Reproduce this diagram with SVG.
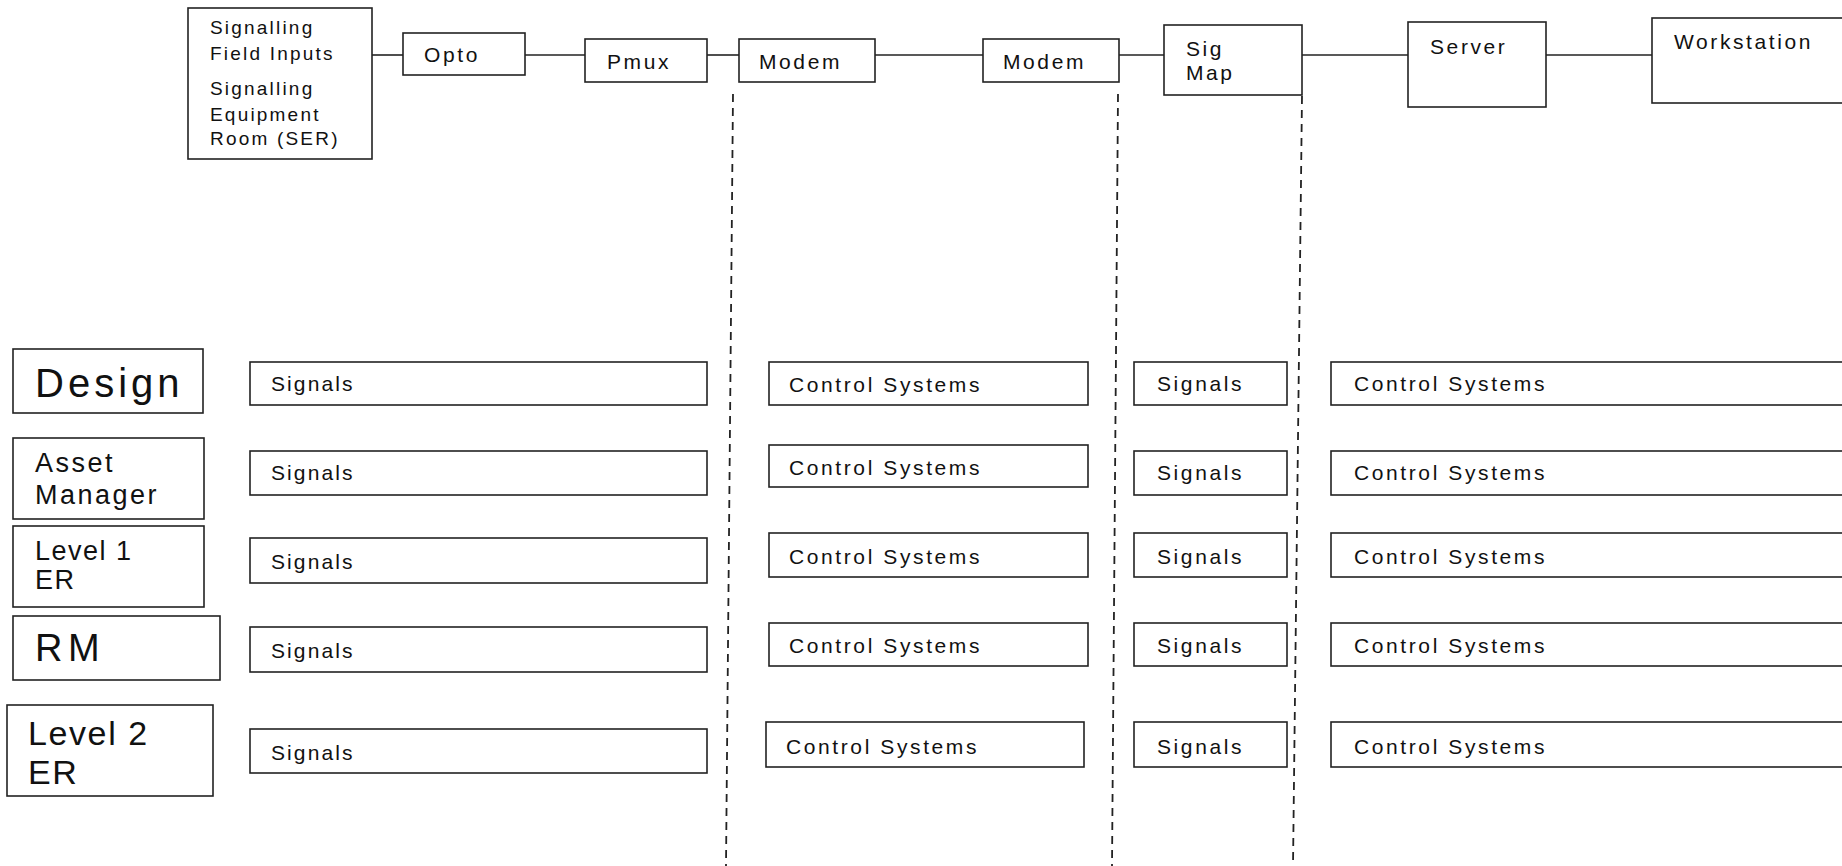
<svg xmlns="http://www.w3.org/2000/svg" width="1842" height="866" viewBox="0 0 1842 866">
<style>
  .b { fill: #fff; stroke: #222; stroke-width: 1.6; }
  .t { font-family: "Liberation Sans", Arial, sans-serif; font-size: 21px; fill: #111; letter-spacing: 2.6px; }
  .g { font-size: 21px; letter-spacing: 2.1px; }
  .s { font-size: 19px; letter-spacing: 2.2px; }
  .c { fill: none; stroke: #222; stroke-width: 1.6; }
  .d { fill: none; stroke: #222; stroke-width: 1.8; stroke-dasharray: 8 6; }
</style>
<rect width="1842" height="866" fill="#fff"/>
<g id="connectors">
  <line class="c" x1="372" y1="55" x2="403" y2="55"/>
  <line class="c" x1="525" y1="55" x2="585" y2="55"/>
  <line class="c" x1="707" y1="55" x2="739" y2="55"/>
  <line class="c" x1="875" y1="55" x2="983" y2="55"/>
  <line class="c" x1="1119" y1="55" x2="1164" y2="55"/>
  <line class="c" x1="1302" y1="55" x2="1408" y2="55"/>
  <line class="c" x1="1546" y1="55" x2="1652" y2="55"/>
  <line class="d" x1="733" y1="94" x2="726" y2="866"/>
  <line class="d" x1="1118" y1="94" x2="1112" y2="866"/>
  <line class="d" x1="1302" y1="96" x2="1293" y2="866"/>
</g>
<g id="ser"><rect class="b" x="188" y="8" width="184" height="151"/>
  <text class="t s" x="210" y="34">Signalling</text>
  <text class="t s" x="210" y="60">Field Inputs</text>
  <text class="t s" x="210" y="95">Signalling</text>
  <text class="t s" x="210" y="121">Equipment</text>
  <text class="t s" x="210" y="145">Room (SER)</text></g>
<g id="opto"><rect class="b" x="403" y="33" width="122" height="42"/><text class="t" x="424" y="62">Opto</text></g>
<g id="pmux"><rect class="b" x="585" y="39" width="122" height="43"/><text class="t" x="607" y="69">Pmux</text></g>
<g id="modem1"><rect class="b" x="739" y="39" width="136" height="43"/><text class="t" x="759" y="69">Modem</text></g>
<g id="modem2"><rect class="b" x="983" y="39" width="136" height="43"/><text class="t" x="1003" y="69">Modem</text></g>
<g id="sigmap"><rect class="b" x="1164" y="25" width="138" height="70"/><text class="t" x="1186" y="56">Sig</text><text class="t" x="1186" y="80">Map</text></g>
<g id="server"><rect class="b" x="1408" y="22" width="138" height="85"/><text class="t" x="1430" y="54">Server</text></g>
<g id="workstation"><rect class="b" x="1652" y="18" width="200" height="85"/><text class="t" x="1674" y="49">Workstation</text></g>

<g id="design"><rect class="b" x="13" y="349" width="190" height="64"/><text class="t" x="35" y="397" style="font-size:40px;letter-spacing:4px">Design</text></g>
<g id="asset"><rect class="b" x="13" y="438" width="191" height="81"/><text class="t" x="35" y="472" style="font-size:27px;letter-spacing:2.5px">Asset</text><text class="t" x="35" y="504" style="font-size:27px;letter-spacing:2.5px">Manager</text></g>
<g id="level1"><rect class="b" x="13" y="526" width="191" height="81"/><text class="t" x="35" y="560" style="font-size:27px;letter-spacing:1.5px">Level 1</text><text class="t" x="35" y="589" style="font-size:27px;letter-spacing:1.5px">ER</text></g>
<g id="rm"><rect class="b" x="13" y="616" width="207" height="64"/><text class="t" x="35" y="661" style="font-size:38px;letter-spacing:5.5px">RM</text></g>
<g id="level2"><rect class="b" x="7" y="705" width="206" height="91"/><text class="t" x="28" y="745" style="font-size:34px;letter-spacing:1.6px">Level 2</text><text class="t" x="28" y="784" style="font-size:34px;letter-spacing:1.6px">ER</text></g>

<g id="sig1-1"><rect class="b" x="250" y="362" width="457" height="43"/><text class="t g" x="271" y="391">Signals</text></g>
<g id="sig1-2"><rect class="b" x="250" y="451" width="457" height="44"/><text class="t g" x="271" y="480">Signals</text></g>
<g id="sig1-3"><rect class="b" x="250" y="538" width="457" height="45"/><text class="t g" x="271" y="569">Signals</text></g>
<g id="sig1-4"><rect class="b" x="250" y="627" width="457" height="45"/><text class="t g" x="271" y="658">Signals</text></g>
<g id="sig1-5"><rect class="b" x="250" y="729" width="457" height="44"/><text class="t g" x="271" y="760">Signals</text></g>

<g id="cs2-1"><rect class="b" x="769" y="362" width="319" height="43"/><text class="t" x="789" y="392">Control Systems</text></g>
<g id="cs2-2"><rect class="b" x="769" y="445" width="319" height="42"/><text class="t" x="789" y="475">Control Systems</text></g>
<g id="cs2-3"><rect class="b" x="769" y="533" width="319" height="44"/><text class="t" x="789" y="564">Control Systems</text></g>
<g id="cs2-4"><rect class="b" x="769" y="623" width="319" height="43"/><text class="t" x="789" y="653">Control Systems</text></g>
<g id="cs2-5"><rect class="b" x="766" y="722" width="318" height="45"/><text class="t" x="786" y="754">Control Systems</text></g>

<g id="sig3-1"><rect class="b" x="1134" y="362" width="153" height="43"/><text class="t" x="1157" y="391">Signals</text></g>
<g id="sig3-2"><rect class="b" x="1134" y="451" width="153" height="44"/><text class="t" x="1157" y="480">Signals</text></g>
<g id="sig3-3"><rect class="b" x="1134" y="533" width="153" height="44"/><text class="t" x="1157" y="564">Signals</text></g>
<g id="sig3-4"><rect class="b" x="1134" y="623" width="153" height="43"/><text class="t" x="1157" y="653">Signals</text></g>
<g id="sig3-5"><rect class="b" x="1134" y="722" width="153" height="45"/><text class="t" x="1157" y="754">Signals</text></g>

<g id="cs4-1"><rect class="b" x="1331" y="362" width="530" height="43"/><text class="t" x="1354" y="391">Control Systems</text></g>
<g id="cs4-2"><rect class="b" x="1331" y="451" width="530" height="44"/><text class="t" x="1354" y="480">Control Systems</text></g>
<g id="cs4-3"><rect class="b" x="1331" y="533" width="530" height="44"/><text class="t" x="1354" y="564">Control Systems</text></g>
<g id="cs4-4"><rect class="b" x="1331" y="623" width="530" height="43"/><text class="t" x="1354" y="653">Control Systems</text></g>
<g id="cs4-5"><rect class="b" x="1331" y="722" width="530" height="45"/><text class="t" x="1354" y="754">Control Systems</text></g>
</svg>
